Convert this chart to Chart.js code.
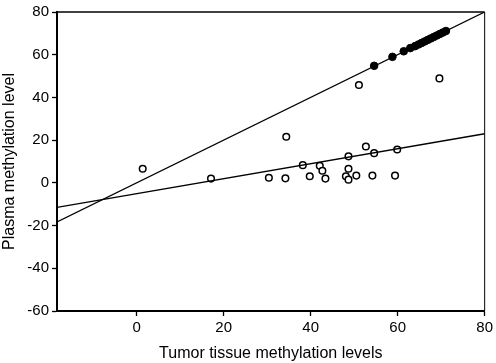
<!DOCTYPE html>
<html>
<head>
<meta charset="utf-8">
<script src="https://cdn.jsdelivr.net/npm/chart.js@4"></script>
<style>
    html, body { margin: 0; padding: 0; background: #fff; }
    #wrap { width: 496px; height: 363px; }
</style>
</head>
<body>
<div id="wrap"><canvas id="chart" width="496" height="363"></canvas></div>
<script>
// values
const filledX = [54.6, 58.8, 61.4, 62.9, 64.0, 64.8, 65.5, 66.2, 66.9, 67.6, 68.3, 69.0, 69.7, 70.4, 71.1];
const filledY = [54.8, 59.0, 61.6, 63.1, 64.0, 64.8, 65.5, 66.2, 66.9, 67.6, 68.3, 69.0, 69.7, 70.4, 71.1];
const openX = [1.4, 17.1, 51.1, 69.6, 34.4, 52.7, 54.6, 59.9, 48.7, 38.2, 42.1, 42.7, 48.7, 30.4, 34.2, 39.8, 43.4, 48.1, 48.7, 50.5, 54.2, 59.4];
const openY = [6.6, 2.0, 45.8, 48.9, 21.6, 17.0, 13.9, 15.6, 12.4, 8.3, 8.0, 5.7, 6.6, 2.4, 2.1, 3.1, 2.0, 3.1, 1.5, 3.4, 3.4, 3.4];
// fitted lines, end points at the plot edges
const steepLineX = [-18.3, 80];
const steepLineY = [-18.3, 80];
const flatLineX = [-18.3, 80];
const flatLineY = [-11.5, 23];
const xTicks = [0, 20, 40, 60, 80];
const yTicks = [-60, -40, -20, 0, 20, 40, 60, 80];

const toPoints = (xs, ys) => xs.map((x, i) => ({x, y: ys[i]}));

const fontFamily = '"Liberation Sans", Arial, sans-serif';

// top and right edges of the box, thinner than the axes
const frame = {
    id: 'frame',
    afterDraw(chart) {
        const {ctx, chartArea: a} = chart;
        ctx.save();
        ctx.strokeStyle = '#000';
        ctx.lineWidth = 1.5;
        ctx.beginPath();
        ctx.moveTo(a.left, a.top);
        ctx.lineTo(a.right, a.top);
        ctx.stroke();
        ctx.lineWidth = 1;
        ctx.beginPath();
        ctx.moveTo(a.right, a.top);
        ctx.lineTo(a.right, a.bottom);
        ctx.stroke();
        ctx.restore();
    }
};

const lineStyle = {
    type: 'line',
    borderColor: '#000',
    borderWidth: 1.3,
    pointRadius: 0,
    fill: false,
};

new Chart(document.getElementById('chart'), {
    type: 'scatter',
    data: {
        datasets: [
            { ...lineStyle, data: toPoints(steepLineX, steepLineY) },
            { ...lineStyle, data: toPoints(flatLineX, flatLineY) },
            {
                data: toPoints(openX, openY),
                pointRadius: 3.3,
                pointBorderWidth: 1.5,
                pointBorderColor: '#000',
                pointBackgroundColor: '#fff',
            },
            {
                data: toPoints(filledX, filledY),
                pointRadius: 3.8,
                pointBorderWidth: 1,
                pointBorderColor: '#000',
                pointBackgroundColor: '#000',
            },
        ]
    },
    options: {
        responsive: false,
        animation: false,
        events: [],
        layout: {
            padding: { top: 7, right: 9, left: 0, bottom: 0 }
        },
        plugins: {
            legend: { display: false },
            tooltip: { enabled: false },
        },
        scales: {
            x: {
                type: 'linear',
                min: -18.3,
                max: 80,
                afterBuildTicks: (scale) => { scale.ticks = xTicks.map(v => ({value: v})); },
                afterFit: (scale) => { scale.height = 52; },
                ticks: {
                    color: '#000',
                    font: { family: fontFamily, size: 15 },
                    padding: 3,
                    maxRotation: 0,
                },
                grid: {
                    drawOnChartArea: false,
                    drawTicks: true,
                    tickLength: 5,
                    tickWidth: 1.3,
                    tickColor: '#000',
                },
                border: { display: true, color: '#000', width: 2 },
                title: {
                    display: true,
                    text: 'Tumor tissue methylation levels',
                    color: '#000',
                    font: { family: fontFamily, size: 16 },
                    padding: { top: 0, bottom: 0 },
                },
            },
            y: {
                type: 'linear',
                min: -60,
                max: 80,
                afterBuildTicks: (scale) => { scale.ticks = yTicks.map(v => ({value: v})); },
                afterFit: (scale) => { scale.width = 57; },
                ticks: {
                    color: '#000',
                    font: { family: fontFamily, size: 15 },
                    padding: 3,
                },
                grid: {
                    drawOnChartArea: false,
                    drawTicks: true,
                    tickLength: 5,
                    tickWidth: 1.3,
                    tickColor: '#000',
                },
                border: { display: true, color: '#000', width: 2 },
                title: {
                    display: true,
                    text: 'Plasma methylation level',
                    color: '#000',
                    font: { family: fontFamily, size: 16 },
                    padding: { top: 0, bottom: 0 },
                },
            }
        }
    },
    plugins: [frame]
});
</script>
</body>
</html>
